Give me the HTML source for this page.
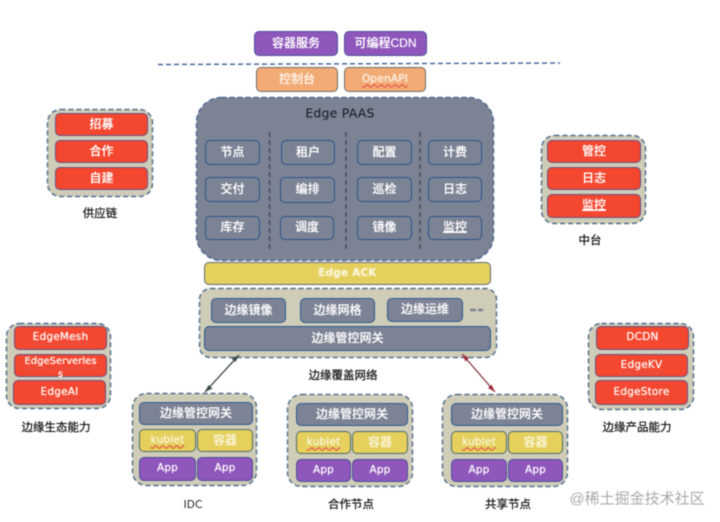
<!DOCTYPE html>
<html lang="zh">
<head>
<meta charset="utf-8">
<title>Edge architecture</title>
<style>
html,body{margin:0;padding:0;background:#fff}
#p{position:relative;width:720px;height:522px;overflow:hidden;background:#fff;font-family:"Liberation Sans","Noto Sans CJK SC",sans-serif;filter:blur(.5px)}
#p svg{position:absolute;left:0;top:0}
.b{position:absolute;box-sizing:border-box;display:flex;align-items:center;justify-content:center;text-align:center;color:#fff;font-size:12px;border-radius:5px;border:1.5px solid #34507f;line-height:1.1;white-space:nowrap;font-weight:500;text-shadow:0 0 .4px #fff}
.pu{background:#8f56bb;border-color:#4a519a}
.or{background:#f2ab75;border-color:#6f6a68;color:#fdf2e6}
.gr{background:#7c8394;border-color:#2f5a92}
.ol{background:#7c8394;border-color:#2b5288}
.ye{background:#e5cf5d;border-color:#4c6a68;color:#fbf6d8}
.re{background:#f4472f;border-color:#6a4f80}
.l{position:absolute;transform:translate(-50%,-50%);color:#111;font-size:11.5px;white-space:nowrap;text-shadow:0 0 .5px #111}
.w{text-decoration:underline wavy #e0392b 1px;text-underline-offset:2px}
.m{font-family:"DejaVu Sans","Noto Sans CJK SC",sans-serif;font-size:10.5px;font-weight:normal;letter-spacing:.2px;text-shadow:0 0 .6px #fff}
</style>
</head>
<body>
<div id="p">
<svg width="720" height="522" viewBox="0 0 720 522">
<path d="M158 64.500 L560 63" stroke="#4a6a9c" stroke-width="1.500" stroke-dasharray="5 3" fill="none"/>
<g fill="#cfcdb8" stroke="#55708f" stroke-width="1.500" stroke-dasharray="5 3">
<rect x="47.500" y="109.500" width="105" height="87" rx="13"/>
<rect x="541.500" y="135.500" width="104" height="88" rx="13"/>
<rect x="6.500" y="323.500" width="104" height="85" rx="13"/>
<rect x="588.500" y="323.500" width="105" height="86" rx="13"/>
<rect x="199.500" y="288.500" width="297" height="69" rx="11"/>
<rect x="132.500" y="393.500" width="124" height="92" rx="14"/>
<rect x="287.500" y="394.500" width="125" height="92" rx="14"/>
<rect x="442.500" y="394.500" width="125" height="92" rx="14"/>
</g>
<rect x="196.500" y="97.500" width="297" height="163" rx="25" fill="#7c8394" stroke="#4f6a94" stroke-width="1.500" stroke-dasharray="5 3"/>
<g stroke="#44505a" stroke-width="1.500" stroke-dasharray="5 3">
<path d="M269.500 132V250"/><path d="M346 132V250"/><path d="M420 132V250"/>
</g>
<path d="M470 310H476M478 310H483" stroke="#7c8394" stroke-width="2.500"/>
<g fill="none" stroke-width="1.300">
<path d="M239 355L205 392" stroke="#3b4a4a"/>
<path d="M462 354L495 392" stroke="#8a3c48"/>
</g>
<path d="M239 355L231.500 358.500L235.500 362Z" fill="#3b4a4a"/>
<path d="M205 392L212.500 388.500L208.500 385Z" fill="#3b4a4a"/>
<path d="M462 354L465.500 361.500L469 358Z" fill="#a02c3c"/>
<path d="M495 392L491.500 384.500L488 388Z" fill="#a02c3c"/>
</svg>

<div class="b pu" style="left:254px;top:31px;width:84px;height:25px">容器服务</div>
<div class="b pu" style="left:344px;top:31px;width:83px;height:25px">可编程CDN</div>
<div class="b or" style="left:256px;top:67px;width:82px;height:25px">控制台</div>
<div class="b or" style="left:344px;top:67px;width:82px;height:25px"><span class="w m">OpenAPI</span></div>

<div class="l m" style="left:340px;top:113px;font-size:12.500px;color:#15171c;text-shadow:none">Edge PAAS</div>

<div class="b ol" style="left:205px;top:140px;width:55px;height:25px">节点</div>
<div class="b ol" style="left:281px;top:140px;width:54px;height:25px">租户</div>
<div class="b ol" style="left:357px;top:140px;width:55px;height:25px">配置</div>
<div class="b ol" style="left:428px;top:140px;width:54px;height:25px">计费</div>
<div class="b ol" style="left:205px;top:177px;width:55px;height:25px">交付</div>
<div class="b ol" style="left:280px;top:177px;width:55px;height:26px">编排</div>
<div class="b ol" style="left:357px;top:177px;width:55px;height:25px">巡检</div>
<div class="b ol" style="left:428px;top:177px;width:54px;height:25px">日志</div>
<div class="b ol" style="left:205px;top:216px;width:55px;height:24px">库存</div>
<div class="b ol" style="left:280px;top:216px;width:54px;height:24px">调度</div>
<div class="b ol" style="left:357px;top:216px;width:55px;height:24px">镜像</div>
<div class="b ol" style="left:428px;top:216px;width:54px;height:24px"><span style="text-decoration:underline">监控</span></div>

<div class="b ye" style="left:204px;top:262px;width:287px;height:23px;border-color:#5a6a78"><span class="m" style="font-weight:bold">Edge ACK</span></div>

<div class="b gr" style="left:211px;top:298px;width:75px;height:25px">边缘镜像</div>
<div class="b gr" style="left:300px;top:298px;width:75px;height:25px">边缘网格</div>
<div class="b gr" style="left:387px;top:298px;width:76px;height:24px">边缘运维</div>
<div class="b gr" style="left:204px;top:326px;width:287px;height:25px">边缘管控网关</div>
<div class="l" style="left:343px;top:375px">边缘覆盖网络</div>

<!-- supply chain -->
<div class="b re" style="left:55px;top:113px;width:93px;height:23px">招募</div>
<div class="b re" style="left:55px;top:140px;width:93px;height:23px">合作</div>
<div class="b re" style="left:55px;top:167px;width:93px;height:23px">自建</div>
<div class="l" style="left:100px;top:213px">供应链</div>

<!-- middle platform -->
<div class="b re" style="left:547px;top:140px;width:94px;height:23px">管控</div>
<div class="b re" style="left:547px;top:167px;width:94px;height:23px">日志</div>
<div class="b re" style="left:547px;top:194px;width:94px;height:24px"><span style="text-decoration:underline">监控</span></div>
<div class="l" style="left:590px;top:240px">中台</div>

<!-- ecosystem -->
<div class="b re" style="left:14px;top:326px;width:93px;height:24px"><span class="w m">EdgeMesh</span></div>
<div class="b re" style="left:14px;top:354px;width:93px;height:23px;white-space:normal;align-items:flex-start;line-height:13px"><span class="w m" style="font-size:10px;letter-spacing:0">EdgeServerles<br>s</span></div>
<div class="b re" style="left:13px;top:380px;width:93px;height:25px"><span class="w m">EdgeAI</span></div>
<div class="l" style="left:56px;top:427px">边缘生态能力</div>

<!-- product -->
<div class="b re" style="left:596px;top:326px;width:93px;height:24px"><span class="m">DCDN</span></div>
<div class="b re" style="left:595px;top:354px;width:93px;height:23px"><span class="w m">EdgeKV</span></div>
<div class="b re" style="left:595px;top:380px;width:93px;height:25px"><span class="w m">EdgeStore</span></div>
<div class="l" style="left:637px;top:427px">边缘产品能力</div>

<!-- IDC -->
<div class="b gr" style="left:139px;top:402px;width:114px;height:23px">边缘管控网关</div>
<div class="b ye" style="left:139px;top:429px;width:57px;height:23px"><span class="w m">kublet</span></div>
<div class="b ye" style="left:197px;top:429px;width:56px;height:23px">容器</div>
<div class="b pu" style="left:139px;top:457px;width:57px;height:24px"><span class="m">App</span></div>
<div class="b pu" style="left:197px;top:457px;width:56px;height:24px"><span class="m">App</span></div>
<div class="l m" style="left:193px;top:505px;color:#222;text-shadow:none">IDC</div>

<!-- partner -->
<div class="b gr" style="left:296px;top:403px;width:112px;height:23px">边缘管控网关</div>
<div class="b ye" style="left:296px;top:431px;width:55px;height:23px"><span class="w m">kublet</span></div>
<div class="b ye" style="left:352px;top:431px;width:56px;height:23px">容器</div>
<div class="b pu" style="left:296px;top:459px;width:55px;height:23px"><span class="m">App</span></div>
<div class="b pu" style="left:352px;top:459px;width:56px;height:23px"><span class="m">App</span></div>
<div class="l" style="left:351px;top:504px">合作节点</div>

<!-- shared -->
<div class="b gr" style="left:451px;top:403px;width:112px;height:23px">边缘管控网关</div>
<div class="b ye" style="left:451px;top:431px;width:56px;height:23px"><span class="w m">kublet</span></div>
<div class="b ye" style="left:508px;top:431px;width:55px;height:23px">容器</div>
<div class="b pu" style="left:451px;top:459px;width:56px;height:23px"><span class="m">App</span></div>
<div class="b pu" style="left:508px;top:459px;width:55px;height:23px"><span class="m">App</span></div>
<div class="l" style="left:508px;top:504px">共享节点</div>

<div class="l" style="left:637px;top:498px;font-size:15px;color:#a9a9a9;text-shadow:none">@稀土掘金技术社区</div>
</div>
</body>
</html>
